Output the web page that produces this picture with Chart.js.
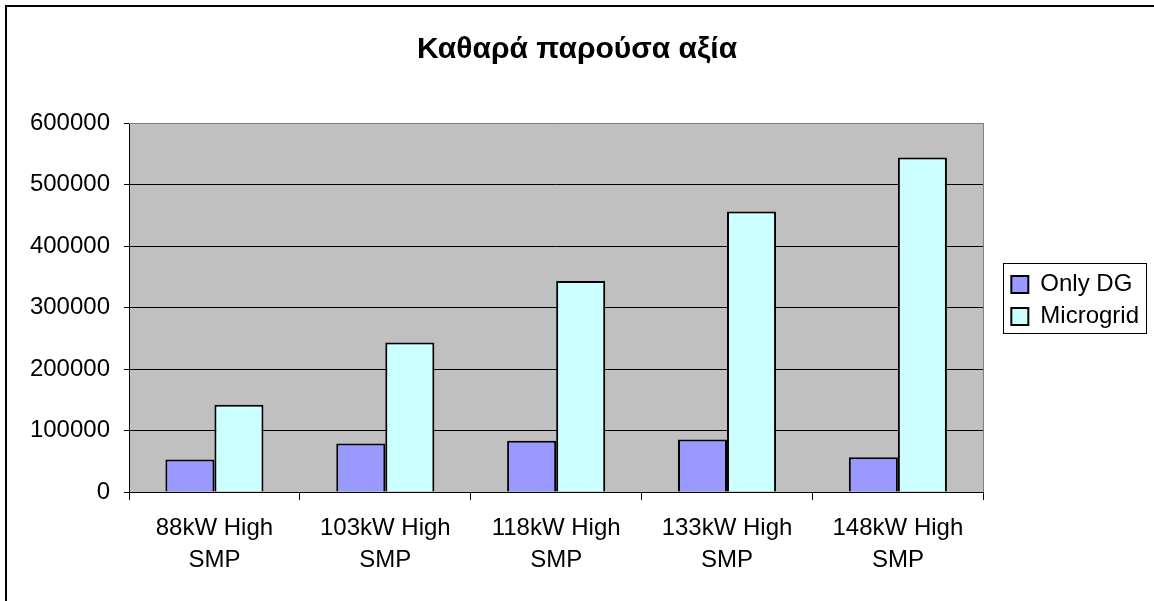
<!DOCTYPE html>
<html><head><meta charset="utf-8">
<script src="https://cdn.jsdelivr.net/npm/chart.js@4.4.1/dist/chart.umd.min.js"></script>
<style>html,body{margin:0;padding:0;background:#fff;overflow:hidden}</style>
</head><body>
<canvas id="c" width="1154" height="601"></canvas>
<script>
const titleText = 'Καθαρά παρούσα αξία';
const categories = [['88kW High','SMP'],['103kW High','SMP'],['118kW High','SMP'],['133kW High','SMP'],['148kW High','SMP']];
const seriesNames = ['Only DG','Microgrid'];
const onlyDG = [53000, 79000, 83500, 85500, 56500];
const microgrid = [142000, 243000, 343000, 456000, 544000];
const yMin = 0, yMax = 600000, yStep = 100000;

Chart.defaults.font.family = "'Liberation Sans', Arial, sans-serif";
Chart.defaults.color = '#000';

const decor = {
  id: 'decor',
  beforeDraw(chart) {
    const {ctx, chartArea: a} = chart;
    ctx.save();
    ctx.fillStyle = '#fff';
    ctx.fillRect(0, 0, chart.width, chart.height);
    ctx.fillStyle = '#C0C0C0';
    ctx.fillRect(a.left, a.top, a.right - a.left, a.bottom - a.top);
    ctx.strokeStyle = '#000';
    ctx.lineWidth = 2;
    ctx.strokeRect(6, 6, chart.width + 20, chart.height + 20);
    ctx.restore();
  },
  beforeDatasetsDraw(chart) {
    const {ctx, chartArea: a} = chart;
    ctx.save();
    ctx.strokeStyle = '#808080';
    ctx.lineWidth = 1;
    ctx.beginPath();
    ctx.moveTo(a.left, Math.round(a.top) + 0.5);
    ctx.lineTo(Math.round(a.right) + 0.5, Math.round(a.top) + 0.5);
    ctx.lineTo(Math.round(a.right) + 0.5, a.bottom);
    ctx.stroke();
    ctx.restore();
  },
  afterDraw(chart) {
    const hb = chart.legend && chart.legend.legendHitBoxes;
    if (!hb || !hb.length) return;
    const {ctx} = chart;
    const x = Math.round(hb[0].left - 8) + 0.5;
    const y = Math.round(hb[0].top - 10) + 0.5;
    const b = Math.round(hb[hb.length - 1].top + 28) + 0.5;
    ctx.save();
    ctx.strokeStyle = '#000';
    ctx.lineWidth = 1;
    ctx.strokeRect(x, y, 143, b - y);
    ctx.restore();
  }
};

new Chart(document.getElementById('c'), {
  type: 'bar',
  data: {
    labels: categories,
    datasets: [
      {label: seriesNames[0], data: onlyDG, backgroundColor: '#9999FF', borderColor: '#000', borderWidth: 2},
      {label: seriesNames[1], data: microgrid, backgroundColor: '#CCFFFF', borderColor: '#000', borderWidth: 2}
    ]
  },
  options: {
    responsive: false,
    animation: false,
    devicePixelRatio: 1,
    layout: {padding: {left: 5, right: 5, top: 0, bottom: 0}},
    datasets: {bar: {categoryPercentage: 0.574, barPercentage: 1.0}},
    plugins: {
      title: {display: true, text: titleText, color: '#000', font: {size: 30, weight: 'bold', lineHeight: 1.2}, padding: {top: 32, bottom: 55}},
      legend: {
        position: 'right',
        labels: {boxWidth: 17, boxHeight: 17, padding: 8, color: '#000', font: {size: 24}}
      },
      tooltip: {enabled: false}
    },
    scales: {
      x: {
        grid: {display: true, drawOnChartArea: false, drawTicks: true, tickLength: 8, color: '#000', offset: true},
        border: {display: true, color: '#000', width: 1},
        ticks: {color: '#000', font: {size: 24, lineHeight: 1.35}, padding: 12, maxRotation: 0, autoSkip: false},
        afterFit(s) { s.height = 109; }
      },
      y: {
        min: yMin, max: yMax,
        grid: {color: '#000', lineWidth: 1, tickLength: 5},
        border: {display: true, color: '#000', width: 1},
        ticks: {stepSize: yStep, color: '#000', font: {size: 24}, padding: 14, callback: v => String(v)},
        afterFit(s) { s.width = 124; }
      },
      y2: {
        type: 'linear', position: 'right',
        grid: {display: false}, border: {display: false},
        ticks: {display: false},
        afterFit(s) { s.width = 20; }
      }
    }
  },
  plugins: [decor]
});
</script>
</body></html>
